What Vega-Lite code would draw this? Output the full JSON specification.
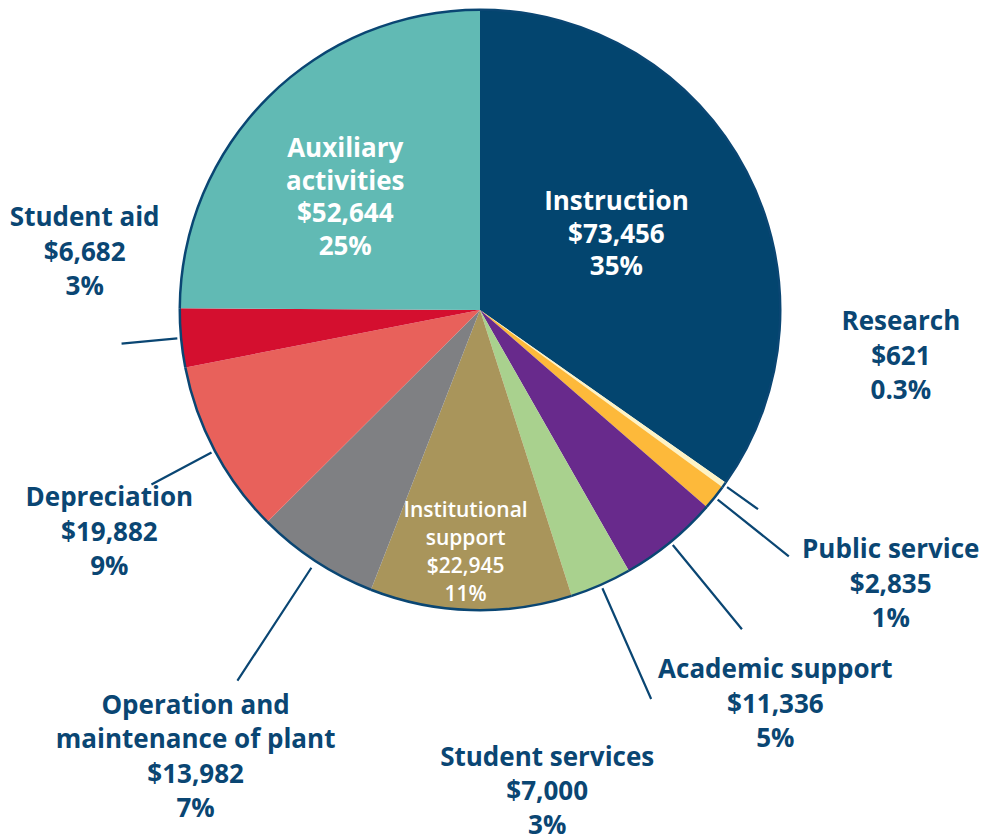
{
  "$schema": "https://vega.github.io/schema/vega-lite/v6.json",
  "width": 960,
  "height": 620,
  "autosize": "none",
  "padding": {"left": 0, "top": 0, "right": 23, "bottom": 220},
  "background": "white",
  "config": {"view": {"stroke": null}},
  "data": {
    "values": [
      {"name": "Instruction", "label": "Instruction", "amount": 73456, "pct": "35%"},
      {"name": "Research", "label": "Research", "amount": 621, "pct": "0.3%"},
      {"name": "Public service", "label": "Public service", "amount": 2835, "pct": "1%"},
      {"name": "Academic support", "label": "Academic support", "amount": 11336, "pct": "5%"},
      {"name": "Student services", "label": "Student services", "amount": 7000, "pct": "3%"},
      {"name": "Institutional support", "label": "Institutional\nsupport", "amount": 22945, "pct": "11%"},
      {"name": "Operation and maintenance of plant", "label": "Operation and\nmaintenance of plant", "amount": 13982, "pct": "7%"},
      {"name": "Depreciation", "label": "Depreciation", "amount": 19882, "pct": "9%"},
      {"name": "Student aid", "label": "Student aid", "amount": 6682, "pct": "3%"},
      {"name": "Auxiliary activities", "label": "Auxiliary\nactivities", "amount": 52644, "pct": "25%"}
    ]
  },
  "transform": [
    {"stack": "amount", "groupby": [], "as": ["a0", "a1"]},
    {"calculate": "(datum.a0 + datum.a1) / 2", "as": "mid"},
    {"calculate": "datum.label + '\\n$' + format(datum.amount, ',') + '\\n' + datum.pct", "as": "text"}
  ],
  "layer": [
    {
      "mark": {"type": "arc", "outerRadius": 300, "innerRadius": 0},
      "encoding": {
        "theta": {"field": "a1", "type": "quantitative", "scale": {"zero": true}},
        "theta2": {"field": "a0"},
        "color": {
          "field": "name", "type": "nominal", "legend": null,
          "scale": {
            "domain": ["Instruction", "Research", "Public service", "Academic support", "Student services", "Institutional support", "Operation and maintenance of plant", "Depreciation", "Student aid", "Auxiliary activities"],
            "range": ["#03456f", "#fdf3c6", "#fdb93a", "#682a8c", "#a9d18e", "#a9955b", "#7f8083", "#e8615b", "#d40f2f", "#61bab4"]
          }
        }
      }
    },
    {
      "mark": {"type": "arc", "fill": "#0a4673"},
      "encoding": {
        "theta": {"field": "a1", "type": "quantitative"},
        "theta2": {"field": "a0"},
        "radius": {"value": 301.5},
        "radius2": {"value": 299}
      }
    },
    {
      "transform": [{"filter": "datum.name === 'Research'"}],
      "mark": {"type": "arc", "stroke": "#0a4673", "strokeWidth": 2.2, "fill": null},
      "encoding": {"theta": {"field": "mid", "type": "quantitative", "stack": null}, "theta2": {"field": "mid"}, "radius": {"value": 304}, "radius2": {"value": 342}}
    },
    {
      "transform": [{"filter": "datum.name === 'Public service'"}],
      "mark": {"type": "arc", "stroke": "#0a4673", "strokeWidth": 2.2, "fill": null},
      "encoding": {"theta": {"field": "mid", "type": "quantitative", "stack": null}, "theta2": {"field": "mid"}, "radius": {"value": 304}, "radius2": {"value": 395}}
    },
    {
      "transform": [{"filter": "datum.name === 'Academic support'"}],
      "mark": {"type": "arc", "stroke": "#0a4673", "strokeWidth": 2.2, "fill": null},
      "encoding": {"theta": {"field": "mid", "type": "quantitative", "stack": null}, "theta2": {"field": "mid"}, "radius": {"value": 304}, "radius2": {"value": 413}}
    },
    {
      "transform": [{"filter": "datum.name === 'Student services'"}],
      "mark": {"type": "arc", "stroke": "#0a4673", "strokeWidth": 2.2, "fill": null},
      "encoding": {"theta": {"field": "mid", "type": "quantitative", "stack": null}, "theta2": {"field": "mid"}, "radius": {"value": 304}, "radius2": {"value": 425}}
    },
    {
      "transform": [{"filter": "datum.name === 'Operation and maintenance of plant'"}],
      "mark": {"type": "arc", "stroke": "#0a4673", "strokeWidth": 2.2, "fill": null},
      "encoding": {"theta": {"field": "mid", "type": "quantitative", "stack": null}, "theta2": {"field": "mid"}, "radius": {"value": 308}, "radius2": {"value": 443}}
    },
    {
      "transform": [{"filter": "datum.name === 'Depreciation'"}],
      "mark": {"type": "arc", "stroke": "#0a4673", "strokeWidth": 2.2, "fill": null},
      "encoding": {"theta": {"field": "mid", "type": "quantitative", "stack": null}, "theta2": {"field": "mid"}, "radius": {"value": 304}, "radius2": {"value": 372}}
    },
    {
      "transform": [{"filter": "datum.name === 'Student aid'"}],
      "mark": {"type": "arc", "stroke": "#0a4673", "strokeWidth": 2.2, "fill": null},
      "encoding": {"theta": {"field": "mid", "type": "quantitative", "stack": null}, "theta2": {"field": "mid"}, "radius": {"value": 304}, "radius2": {"value": 360}}
    },
    {
      "transform": [{"filter": "datum.name === 'Instruction'"}],
      "mark": {"type": "text", "dx": -2, "dy": -36, "align": "center", "baseline": "middle", "lineBreak": "\n", "lineHeight": 32.5, "font": "Open Sans", "fontSize": 26, "fontWeight": 700, "fill": "white"},
      "encoding": {"theta": {"field": "mid", "type": "quantitative", "stack": null}, "radius": {"value": 156}, "text": {"field": "text"}}
    },
    {
      "transform": [{"filter": "datum.name === 'Auxiliary activities'"}],
      "mark": {"type": "text", "dx": -10, "dy": -35, "align": "center", "baseline": "middle", "lineBreak": "\n", "lineHeight": 32.5, "font": "Open Sans", "fontSize": 26, "fontWeight": 700, "fill": "white"},
      "encoding": {"theta": {"field": "mid", "type": "quantitative", "stack": null}, "radius": {"value": 177}, "text": {"field": "text"}}
    },
    {
      "transform": [{"filter": "datum.name === 'Institutional support'"}],
      "mark": {"type": "text", "dx": -7, "dy": -40, "align": "center", "baseline": "middle", "lineBreak": "\n", "lineHeight": 28, "font": "Open Sans", "fontSize": 21, "fontWeight": 600, "fill": "white"},
      "encoding": {"theta": {"field": "mid", "type": "quantitative", "stack": null}, "radius": {"value": 241}, "text": {"field": "text"}}
    },
    {
      "transform": [{"filter": "datum.name === 'Research'"}],
      "mark": {"type": "text", "dx": 86, "dy": -228, "align": "center", "baseline": "middle", "lineBreak": "\n", "lineHeight": 34.5, "font": "Open Sans", "fontSize": 26, "fontWeight": 700, "fill": "#0a4673"},
      "encoding": {"theta": {"field": "mid", "type": "quantitative", "stack": null}, "radius": {"value": 412}, "text": {"field": "text"}}
    },
    {
      "transform": [{"filter": "datum.name === 'Public service'"}],
      "mark": {"type": "text", "dx": 98, "dy": -9, "align": "center", "baseline": "middle", "lineBreak": "\n", "lineHeight": 34.5, "font": "Open Sans", "fontSize": 26, "fontWeight": 700, "fill": "#0a4673"},
      "encoding": {"theta": {"field": "mid", "type": "quantitative", "stack": null}, "radius": {"value": 400}, "text": {"field": "text"}}
    },
    {
      "transform": [{"filter": "datum.name === 'Academic support'"}],
      "mark": {"type": "text", "dx": 29, "dy": 35.6, "align": "center", "baseline": "middle", "lineBreak": "\n", "lineHeight": 34.5, "font": "Open Sans", "fontSize": 26, "fontWeight": 700, "fill": "#0a4673"},
      "encoding": {"theta": {"field": "mid", "type": "quantitative", "stack": null}, "radius": {"value": 420}, "text": {"field": "text"}}
    },
    {
      "transform": [{"filter": "datum.name === 'Student services'"}],
      "mark": {"type": "text", "dx": -110, "dy": 45, "align": "center", "baseline": "middle", "lineBreak": "\n", "lineHeight": 34, "font": "Open Sans", "fontSize": 26, "fontWeight": 700, "fill": "#0a4673"},
      "encoding": {"theta": {"field": "mid", "type": "quantitative", "stack": null}, "radius": {"value": 440}, "text": {"field": "text"}}
    },
    {
      "transform": [{"filter": "datum.name === 'Operation and maintenance of plant'"}],
      "mark": {"type": "text", "dx": -38, "dy": 19, "align": "center", "baseline": "middle", "lineBreak": "\n", "lineHeight": 34.5, "font": "Open Sans", "fontSize": 26, "fontWeight": 700, "fill": "#0a4673"},
      "encoding": {"theta": {"field": "mid", "type": "quantitative", "stack": null}, "radius": {"value": 450}, "text": {"field": "text"}}
    },
    {
      "transform": [{"filter": "datum.name === 'Depreciation'"}],
      "mark": {"type": "text", "dx": -35, "dy": 10, "align": "center", "baseline": "middle", "lineBreak": "\n", "lineHeight": 34.5, "font": "Open Sans", "fontSize": 26, "fontWeight": 700, "fill": "#0a4673"},
      "encoding": {"theta": {"field": "mid", "type": "quantitative", "stack": null}, "radius": {"value": 380}, "text": {"field": "text"}}
    },
    {
      "transform": [{"filter": "datum.name === 'Student aid'"}],
      "mark": {"type": "text", "dx": -7, "dy": -128, "align": "center", "baseline": "middle", "lineBreak": "\n", "lineHeight": 34.5, "font": "Open Sans", "fontSize": 26, "fontWeight": 700, "fill": "#0a4673"},
      "encoding": {"theta": {"field": "mid", "type": "quantitative", "stack": null}, "radius": {"value": 390}, "text": {"field": "text"}}
    }
  ]
}
